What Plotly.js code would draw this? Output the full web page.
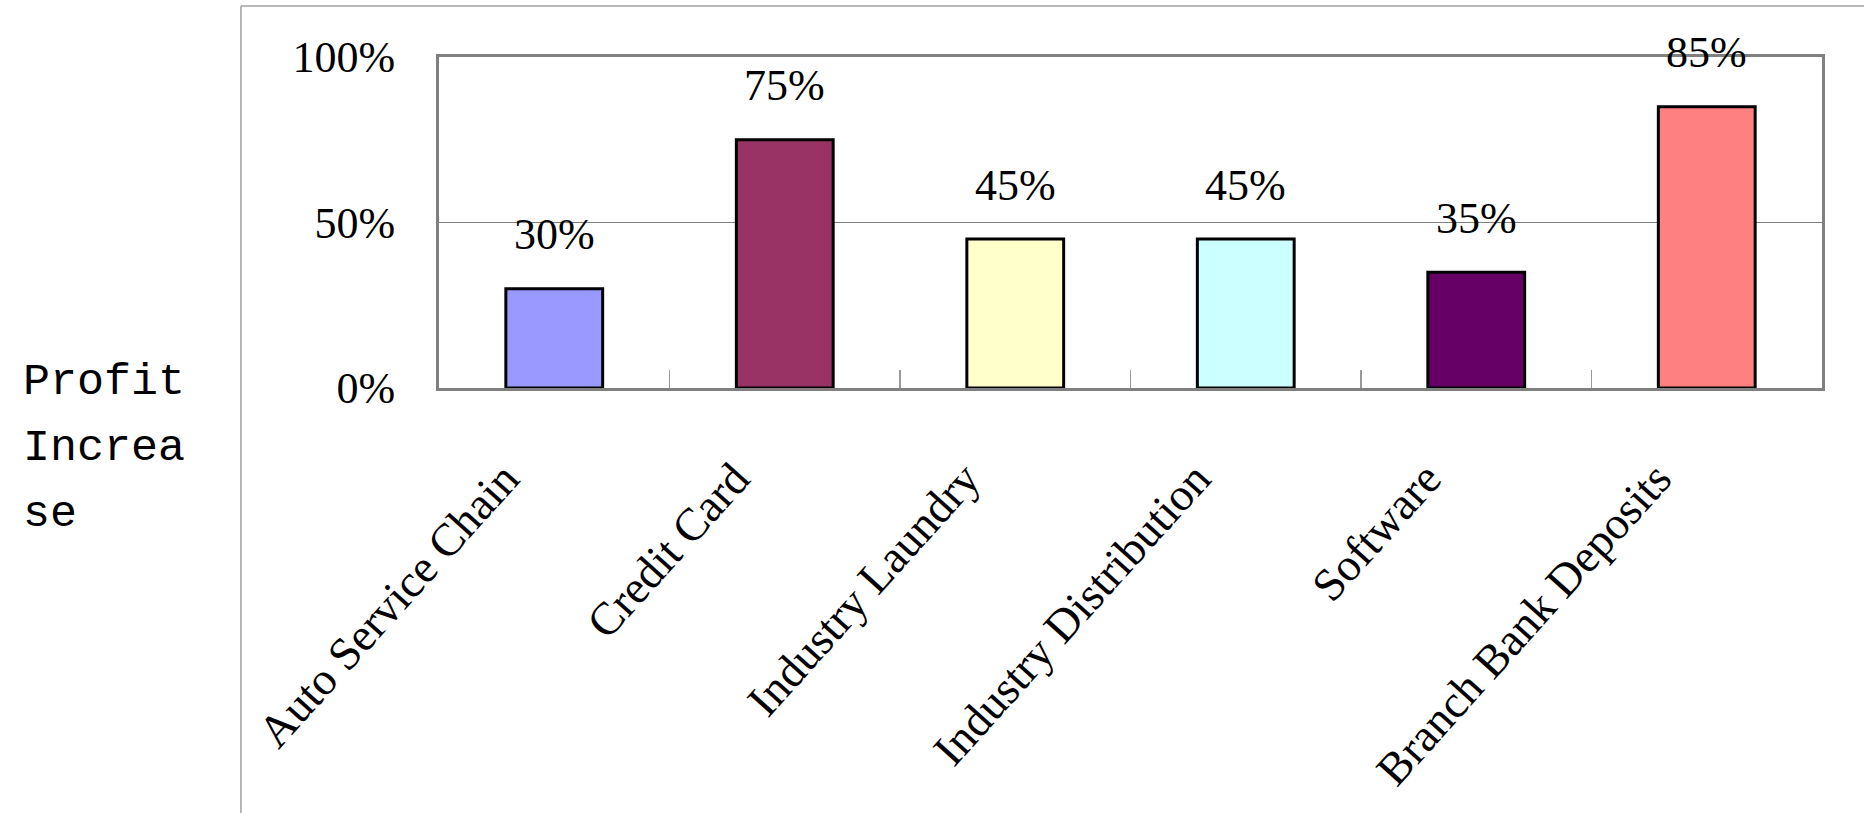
<!DOCTYPE html>
<html>
<head>
<meta charset="utf-8">
<script src="https://cdn.plot.ly/plotly-3.0.1.min.js"></script>
<style>
  html, body { margin: 0; padding: 0; background: #ffffff; }
  #chart { width: 1864px; height: 813px; }
</style>
</head>
<body>
<div id="chart"></div>
<script>
// ---- data ----
var categories = ["Auto Service Chain", "Credit Card", "Industry Laundry", "Industry Distribution", "Software", "Branch Bank Deposits"];
var values = [0.30, 0.75, 0.45, 0.45, 0.35, 0.85];
var barColors = ["#9999FF", "#993366", "#FFFFCC", "#CCFFFF", "#660066", "#FF8080"];
var yTickValues = [0, 0.5, 1];
var yTitleLines = ["Profit", "Increa", "se"];

var serif = "Liberation Serif, Times New Roman, serif";

var trace = {
  type: "bar",
  x: categories,
  y: values,
  marker: { color: barColors, line: { color: "#000000", width: 3 } },
  hoverinfo: "skip"
};

var annotations = categories.map(function (c, i) {
  return {
    x: c, y: values[i], xref: "x", yref: "y",
    text: Math.round(values[i] * 100) + "%",
    showarrow: false, yshift: 54, yanchor: "middle",
    font: { family: serif, size: 44, color: "#000000" }
  };
});
// y-axis title, drawn horizontally, one line per annotation
yTitleLines.forEach(function (line, i) {
  annotations.push({
    xref: "paper", yref: "paper", x: -0.302, y: 0.018 - i * 0.2,
    xanchor: "left", yanchor: "middle", align: "left",
    text: line, showarrow: false,
    font: { family: "Liberation Mono, DejaVu Sans Mono, monospace", size: 45, color: "#000000" }
  });
});

var layout = {
  width: 1864, height: 813,
  margin: { l: 439, r: 42, t: 57, b: 425 },
  paper_bgcolor: "#ffffff", plot_bgcolor: "#ffffff",
  showlegend: false,
  bargap: 0.58,
  xaxis: {
    type: "category",
    tickangle: -48,
    tickfont: { family: serif, size: 46, color: "#000000" },
    ticks: "inside", tickson: "boundaries", ticklen: 18, tickcolor: "#999999", tickwidth: 1.5,
    ticklabelstandoff: 42,
    ticklabelshift: -50,
    showline: true, linecolor: "#808080", linewidth: 3, mirror: true,
    showgrid: false, zeroline: false, fixedrange: true
  },
  yaxis: {
    range: [0, 1],
    tickvals: yTickValues, tickformat: ".0%",
    tickfont: { family: serif, size: 44, color: "#000000" },
    ticks: "inside", ticklen: 12, tickcolor: "#808080",
    ticklabelstandoff: 32,
    showline: true, linecolor: "#808080", linewidth: 3, mirror: true,
    showgrid: true, gridcolor: "#808080", gridwidth: 1,
    zeroline: false, fixedrange: true
  },
  shapes: [
    { type: "line", xref: "paper", yref: "paper", x0: -0.1432, x1: -0.1432, y0: -1.3, y1: 1.154,
      line: { color: "#a0a0a0", width: 1.5 } },
    { type: "line", xref: "paper", yref: "paper", x0: -0.1432, x1: 1.1, y0: 1.154, y1: 1.154,
      line: { color: "#a0a0a0", width: 1.5 } }
  ],
  annotations: annotations
};

Plotly.newPlot("chart", [trace], layout, { displayModeBar: false, staticPlot: true });
</script>
</body>
</html>
